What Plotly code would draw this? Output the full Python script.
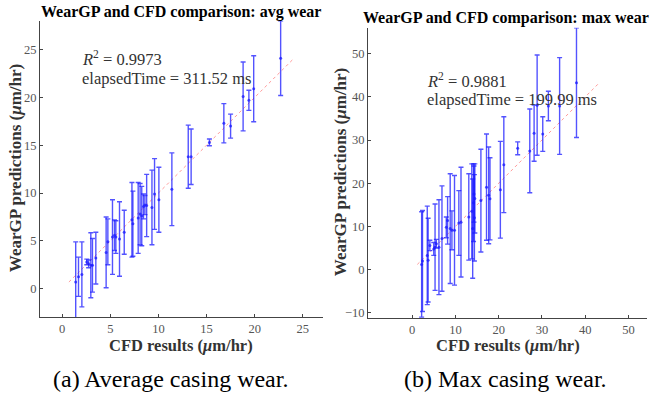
import plotly.graph_objects as go

# ---- data: (a) average casing wear ----
cfd_avg = [1.41, 1.7, 2.05, 2.56, 2.75, 2.98, 3.15, 3.5, 4.57, 4.75, 5.23, 5.44,
           5.58, 5.96, 6.45, 7.25, 7.35, 7.9, 8.1, 8.27, 8.45, 8.6, 8.78, 9.33,
           9.6, 10.05, 11.4, 13.1, 13.4, 15.3, 16.8, 17.5, 18.8, 19.4, 19.9, 22.7]
gp_avg = [0.7, 1.25, 1.5, 2.8, 2.6, 2.45, 2.45, 3.2, 3.8, 4.9, 5.4, 5.6,
          5.4, 5.2, 5.9, 7.2, 6.8, 7.4, 7.8, 7.6, 8.6, 8.75, 8.7, 8.5,
          9.9, 9.3, 10.4, 13.8, 13.8, 15.3, 17.3, 17.0, 20.1, 19.7, 20.9, 24.1]
err_avg = [4.2, 2.05, 3.4, 0.3, 0.4, 3.4, 2.8, 2.7, 3.7, 2.4, 3.9, 1.6,
           1.7, 3.9, 2.3, 3.9, 3.4, 3.7, 3.2, 3.1, 1.3, 1.0, 3.25, 3.9,
           3.7, 3.4, 3.8, 3.3, 2.9, 0.35, 2.05, 1.25, 3.6, 1.05, 3.45, 3.9]

# ---- data: (b) max casing wear ----
cfd_max = [2.2, 2.4, 3.5, 3.7, 4.1, 5.0, 5.3, 5.6, 6.2, 6.9, 7.9, 8.2, 8.8,
           9.2, 9.8, 10.8, 11.3, 13.1, 13.8, 14.0, 14.2, 14.3, 14.4, 14.5,
           15.9, 17.2, 17.7, 18.0, 20.4, 21.2, 24.4, 27.2, 28.2, 28.9, 30.2,
           31.5, 34.1, 38.0]
gp_max = [1.2, 2.0, 3.3, 2.2, 5.6, 4.8, 5.2, 6.0, 5.2, 7.2, 9.8, 11.4, 9.5,
          9.1, 9.1, 10.8, 11.0, 12.2, 13.5, 9.5, 15.5, 17.5, 12.0, 16.5,
          16.0, 19.1, 17.2, 16.4, 18.5, 24.3, 28.1, 27.5, 31.6, 38.1, 31.4,
          37.9, 37.9, 43.3]
err_max = [12.2, 11.7, 11.4, 9.7, 1.2, 1.5, 10.0, 1.0, 11.0, 12.2, 2.4, 5.5,
           12.7, 4.5, 12.7, 7.5, 12.7, 10.0, 11.0, 11.5, 9.0, 6.5, 10.0, 8.0,
           11.9, 12.3, 11.2, 9.5, 11.2, 11.1, 1.5, 9.7, 6.5, 11.6, 4.0, 3.4,
           11.2, 12.7]

ticks_avg = [0, 5, 10, 15, 20, 25]
ticks_max_x = [0, 10, 20, 30, 40, 50]
ticks_max_y = [-10, 0, 10, 20, 30, 40, 50]

titles = ["WearGP and CFD comparison: avg wear", "WearGP and CFD comparison: max wear"]
r2_text = ["<i>R</i><sup>2</sup> = 0.9973", "<i>R</i><sup>2</sup> = 0.9881"]
time_text = ["elapsedTime = 311.52 ms", "elapsedTime = 199.99 ms"]
captions = ["(a) Average casing wear.", "(b) Max casing wear."]
xlabel = "CFD results (<i>μ</i>m/hr)"
ylabel = "WearGP predictions (<i>μ</i>m/hr)"

SERIF = "'Liberation Serif', 'Times New Roman', Times, serif"
BLUE = "rgba(25,25,255,0.75)"
RED = "rgba(255,100,100,0.65)"

fig = go.Figure()

def add_panel(cfd, gp, err, xa, ya):
    lo, hi = min(gp), max(gp)
    fig.add_trace(go.Scatter(x=[lo, hi], y=[lo, hi], mode="lines",
                             line=dict(color=RED, width=1, dash="dot"),
                             xaxis=xa, yaxis=ya, showlegend=False, hoverinfo="skip"))
    fig.add_trace(go.Scatter(x=cfd, y=gp, mode="markers",
                             marker=dict(color=BLUE, size=3),
                             error_y=dict(type="data", array=err, symmetric=True,
                                          color=BLUE, thickness=1.4, width=2.5),
                             xaxis=xa, yaxis=ya, showlegend=False))

add_panel(cfd_avg, gp_avg, err_avg, "x", "y")
add_panel(cfd_max, gp_max, err_max, "x2", "y2")

W, H = 650, 404
def px(x):
    return x / W
def py(y):
    return 1 - y / H

axis_common = dict(showline=True, linecolor="#444", linewidth=1, ticks="inside",
                   ticklen=3, tickcolor="#444", showgrid=False, zeroline=False,
                   tickfont=dict(family=SERIF, size=12.5, color="#555"))

fig.update_layout(
    width=W, height=H,
    margin=dict(l=0, r=0, t=0, b=0),
    paper_bgcolor="white", plot_bgcolor="white",
    xaxis=dict(domain=[px(40), px(323)], range=[-2.3, 27.1], tickvals=ticks_avg,
               anchor="y", **axis_common),
    yaxis=dict(domain=[py(319), py(21)], range=[-3.0, 28.0], tickvals=ticks_avg,
               anchor="x", **axis_common),
    xaxis2=dict(domain=[px(368), px(647)], range=[-10.2, 54.3], tickvals=ticks_max_x,
                anchor="y2", **axis_common),
    yaxis2=dict(domain=[py(320), py(28)], range=[-11.3, 56.0], tickvals=ticks_max_y,
                anchor="x2", **axis_common),
)

ann = []
# titles
for t, cx, cy in zip(titles, [181, 506], [12, 18]):
    ann.append(dict(text="<b>%s</b>" % t, x=px(cx), y=py(cy), xref="paper", yref="paper",
                    xanchor="center", yanchor="middle", showarrow=False,
                    font=dict(family=SERIF, size=16, color="black")))
# x labels
for cx in [181, 508]:
    ann.append(dict(text="<b>%s</b>" % xlabel, x=px(cx), y=py(347), xref="paper", yref="paper",
                    xanchor="center", yanchor="middle", showarrow=False,
                    font=dict(family=SERIF, size=16.5, color="#333")))
# y labels
for cx, cy in zip([15, 340], [169, 173]):
    ann.append(dict(text="<b>%s</b>" % ylabel, x=px(cx), y=py(cy), xref="paper", yref="paper",
                    xanchor="center", yanchor="middle", showarrow=False, textangle=-90,
                    font=dict(family=SERIF, size=17, color="#333")))
# R2 / time text
for r2, tt, lx, y1, y2 in zip(r2_text, time_text, [80, 425], [59, 81], [79, 100]):
    ann.append(dict(text=r2, x=px(lx), y=py(y1), xref="paper", yref="paper",
                    xanchor="left", yanchor="middle", showarrow=False,
                    font=dict(family=SERIF, size=16.5, color="#333")))
    ann.append(dict(text=tt, x=px(lx), y=py(y2), xref="paper", yref="paper",
                    xanchor="left", yanchor="middle", showarrow=False,
                    font=dict(family=SERIF, size=16.5, color="#333")))
# captions
for c, cx in zip(captions, [170, 505]):
    ann.append(dict(text=c, x=px(cx), y=py(381), xref="paper", yref="paper",
                    xanchor="center", yanchor="middle", showarrow=False,
                    font=dict(family=SERIF, size=24, color="black")))

fig.update_layout(annotations=ann)
fig.write_html("out.html")
